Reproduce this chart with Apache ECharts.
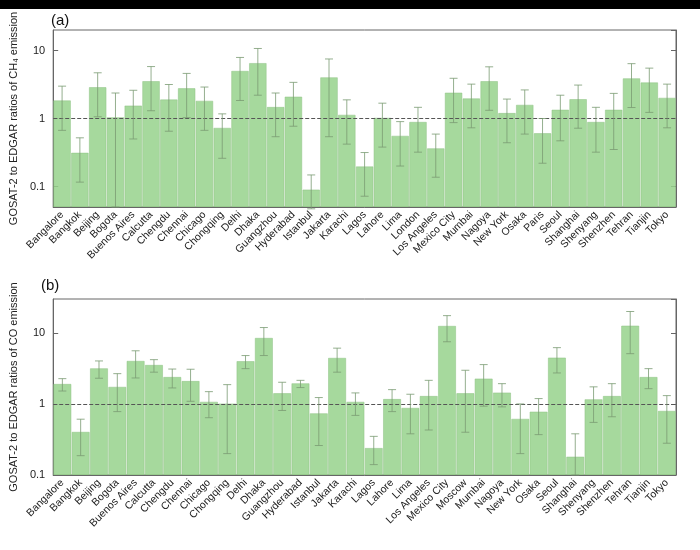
<!DOCTYPE html>
<html>
<head>
<meta charset="utf-8">
<script src="https://cdn.jsdelivr.net/npm/echarts@6/dist/echarts.min.js"></script>
<style>
  html, body {margin: 0; padding: 0; background: #fff;}
  #top {position: absolute; left: 0; top: 0; width: 700px; height: 9px; background: #000;}
  #chart {width: 700px; height: 550px;}
</style>
</head>
<body>
<div id="chart"></div>
<div id="top"></div>
<script>
const citiesA = ['Bangalore', 'Bangkok', 'Beijing', 'Bogota', 'Buenos Aires', 'Calcutta', 'Chengdu', 'Chennai', 'Chicago',
  'Chongqing', 'Delhi', 'Dhaka', 'Guangzhou', 'Hyderabad', 'Istanbul', 'Jakarta', 'Karachi', 'Lagos', 'Lahore', 'Lima',
  'London', 'Los Angeles', 'Mexico City', 'Mumbai', 'Nagoya', 'New York', 'Osaka', 'Paris', 'Seoul', 'Shanghai',
  'Shenyang', 'Shenzhen', 'Tehran', 'Tianjin', 'Tokyo']
const ch4 = [1.82, 0.31, 2.85, 1.03, 1.53, 3.5, 1.88, 2.75, 1.8, 0.72, 4.95, 6.45, 1.46, 2.07, 0.089, 3.98, 1.12, 0.195, 1.01,
  0.55, 0.88, 0.36, 2.37, 1.95, 3.5, 1.19, 1.57, 0.6, 1.33, 1.9, 0.88, 1.33, 3.85, 3.35, 1.99]
const ch4Hi = [2.99, 0.52, 4.7, 2.37, 2.6, 5.8, 3.16, 4.6, 2.9, 1.17, 7.9, 10.7, 2.37, 3.4, 0.148, 7.5, 1.88, 0.316, 1.68,
  0.9, 1.46, 0.59, 3.9, 3.2, 5.75, 1.93, 2.63, 1.0, 2.2, 3.1, 1.46, 2.34, 6.4, 5.5, 3.2]
const ch4Lo = [0.67, 0.116, 1.06, 0.05, 0.5, 1.3, 0.65, 1.03, 0.67, 0.26, 1.84, 2.2, 0.54, 0.77, 0.047, 0.54, 0.42, 0.072, 0.38,
  0.2, 0.32, 0.137, 0.87, 0.73, 1.32, 0.44, 0.59, 0.22, 0.47, 0.72, 0.32, 0.35, 1.45, 1.23, 0.73]

const citiesB = ['Bangalore', 'Bangkok', 'Beijing', 'Bogota', 'Buenos Aires', 'Calcutta', 'Chengdu', 'Chennai', 'Chicago',
  'Chongqing', 'Delhi', 'Dhaka', 'Guangzhou', 'Hyderabad', 'Istanbul', 'Jakarta', 'Karachi', 'Lagos', 'Lahore', 'Lima',
  'Los Angeles', 'Mexico City', 'Moscow', 'Mumbai', 'Nagoya', 'New York', 'Osaka', 'Seoul', 'Shanghai', 'Shenyang',
  'Shenzhen', 'Tehran', 'Tianjin', 'Tokyo']
const co = [1.89, 0.4, 3.14, 1.72, 3.99, 3.5, 2.37, 2.08, 1.06, 1.0, 3.95, 8.4, 1.4, 1.93, 0.73, 4.4, 1.06, 0.237, 1.16,
  0.87, 1.28, 12.4, 1.4, 2.25, 1.43, 0.61, 0.77, 4.44, 0.179, 1.15, 1.28, 12.5, 2.37, 0.79]
const coHi = [2.27, 0.61, 4.03, 2.67, 5.6, 4.2, 3.1, 3.08, 1.49, 1.87, 4.8, 11.9, 2.02, 2.15, 1.23, 6.1, 1.43, 0.35, 1.59,
  1.37, 2.15, 17.5, 2.98, 3.58, 1.93, 1.0, 1.19, 6.2, 0.38, 1.74, 1.93, 20, 3.14, 1.31]
const coLo = [1.52, 0.187, 2.3, 0.78, 2.32, 2.8, 1.68, 1.09, 0.64, 0.2, 3.14, 4.8, 0.81, 1.7, 0.26, 2.8, 0.69, 0.14, 0.78,
  0.38, 0.43, 7.5, 0.4, 0.93, 0.91, 0.2, 0.37, 2.73, 0.1, 0.55, 0.66, 5.1, 1.64, 0.28]

const barColor = 'rgba(150,210,140,0.85)'
const axisColor = '#666'

// bars from the axis floor up to the value (log axis bars otherwise grow from 1)
const barRender = floor => (params, api) => {
  const x = api.value(0)
  const top = api.coord([x, api.value(1)])
  const base = api.coord([x, floor])
  const w = api.size([1, 0])[0] * 0.94
  return {
    type: 'rect',
    shape: {x: top[0] - w / 2, y: top[1], width: w, height: base[1] - top[1]},
    style: {fill: barColor, stroke: '#8cc083', lineWidth: 0.5}
  }
}

const errRender = (params, api) => {
  const x = api.value(0)
  const hi = api.coord([x, api.value(1)])
  const lo = api.coord([x, api.value(2)])
  const w = 4
  const style = {stroke: '#7a9a72', lineWidth: 0.8}
  return {
    type: 'group',
    children: [
      {type: 'line', shape: {x1: hi[0], y1: hi[1], x2: lo[0], y2: lo[1]}, style},
      {type: 'line', shape: {x1: hi[0] - w, y1: hi[1], x2: hi[0] + w, y2: hi[1]}, style},
      {type: 'line', shape: {x1: lo[0] - w, y1: lo[1], x2: lo[0] + w, y2: lo[1]}, style}
    ]
  }
}

const makeX = (cats, idx) => ({
  type: 'category', gridIndex: idx, data: cats,
  axisLine: {lineStyle: {color: axisColor}},
  axisTick: {alignWithLabel: true, lineStyle: {color: axisColor}},
  axisLabel: {rotate: 45, interval: 0, color: '#222', fontSize: 10.5, fontFamily: 'Liberation Sans', margin: 6}
})
const makeY = (idx, min, max, name, showMin) => [{
  type: 'log', gridIndex: idx, min, max, logBase: 10,
  name, nameLocation: 'middle', nameGap: 26, nameRotate: 90,
  nameTextStyle: {color: '#222', fontSize: 11, fontFamily: 'Liberation Sans'},
  axisLine: {show: true, lineStyle: {color: axisColor}},
  axisTick: {show: true, inside: true, lineStyle: {color: axisColor}},
  axisLabel: {color: '#222', fontSize: 11, fontFamily: 'Liberation Sans', showMinLabel: showMin, showMaxLabel: false,
    formatter: v => v >= 1 ? String(v) : v.toFixed(1)},
  splitLine: {show: false}
}, {
  type: 'log', gridIndex: idx, min, max, logBase: 10, position: 'right',
  axisLine: {show: true, lineStyle: {color: axisColor}},
  axisTick: {show: true, inside: true, lineStyle: {color: axisColor}},
  axisLabel: {show: false}, splitLine: {show: false}
}]

const refLine = {silent: true, symbol: 'none', label: {show: false},
  lineStyle: {type: 'dashed', color: '#555', width: 1}, data: [{yAxis: 1}]}

const chart = echarts.init(document.getElementById('chart'))
chart.setOption({
  animation: false,
  title: [
    {text: '(a)', left: 46, top: 8, textStyle: {fontSize: 15, fontWeight: 'normal', color: '#111'}},
    {text: '(b)', left: 36, top: 273, textStyle: {fontSize: 15, fontWeight: 'normal', color: '#111'}}
  ],
  grid: [
    {left: 38, right: 24, top: 30, height: 177, show: true, borderColor: axisColor, borderWidth: 1},
    {left: 38, right: 24, top: 299, height: 176, show: true, borderColor: axisColor, borderWidth: 1}
  ],
  xAxis: [makeX(citiesA, 0), makeX(citiesB, 1)],
  yAxis: [...makeY(0, 0.05, 20, 'GOSAT-2 to EDGAR ratios of CH\u2084 emission', false),
    ...makeY(1, 0.1, 30, 'GOSAT-2 to EDGAR ratios of CO emission', true)],
  series: [
    {type: 'custom', xAxisIndex: 0, yAxisIndex: 0, renderItem: barRender(0.05), clip: true,
      data: citiesA.map((c, i) => [i, ch4[i]]), markLine: refLine},
    {type: 'custom', xAxisIndex: 0, yAxisIndex: 0, renderItem: errRender, z: 5,
      data: citiesA.map((c, i) => [i, ch4Hi[i], ch4Lo[i]])},
    {type: 'custom', xAxisIndex: 1, yAxisIndex: 2, renderItem: barRender(0.1), clip: true,
      data: citiesB.map((c, i) => [i, co[i]]), markLine: refLine},
    {type: 'custom', xAxisIndex: 1, yAxisIndex: 2, renderItem: errRender, z: 5,
      data: citiesB.map((c, i) => [i, coHi[i], coLo[i]])}
  ]
})
</script>
</body>
</html>
